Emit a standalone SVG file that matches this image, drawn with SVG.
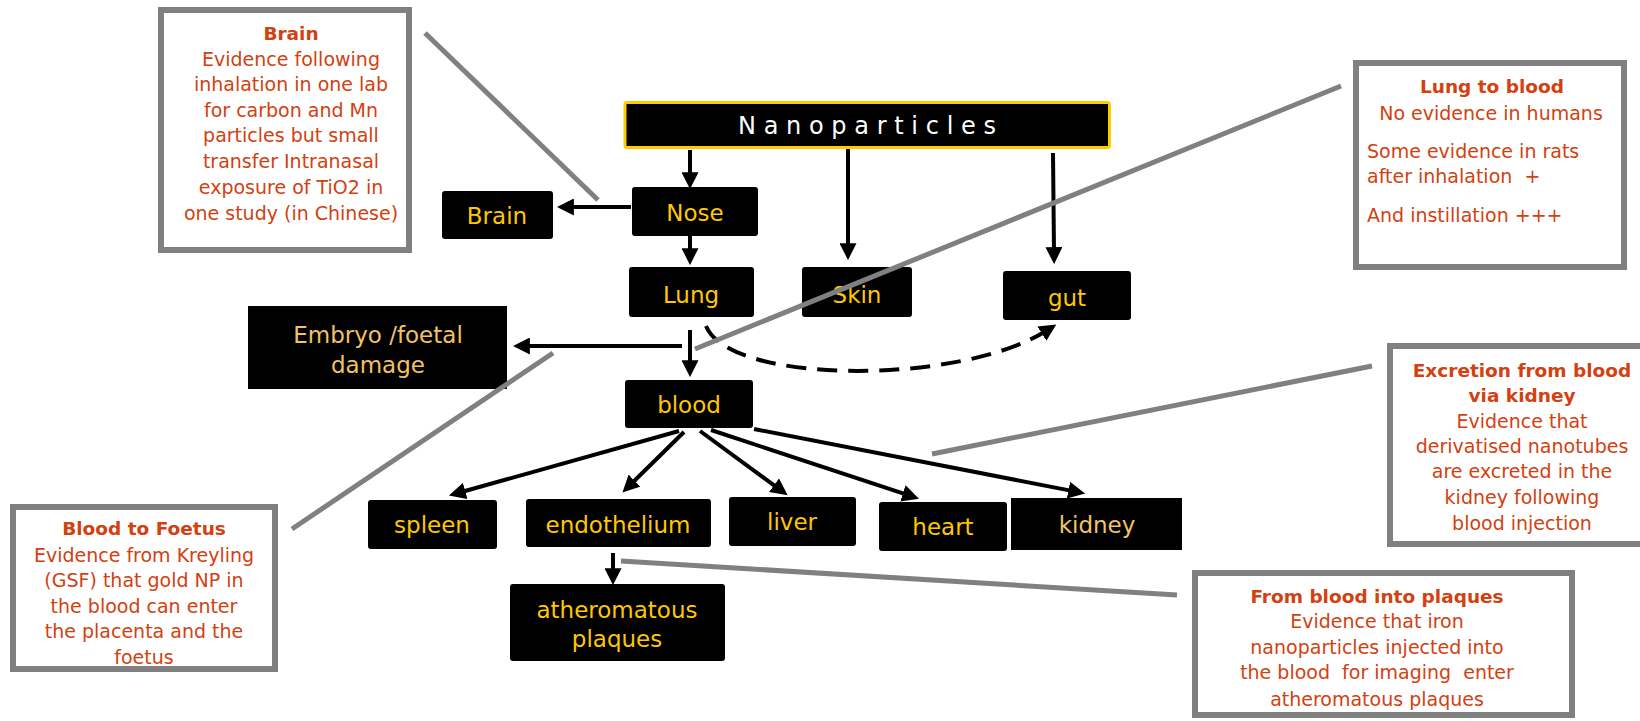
<svg xmlns="http://www.w3.org/2000/svg" width="1640" height="721" viewBox="0 0 1640 721">
<style>
.node{fill:#000}
.lbl{font-family:"DejaVu Sans",Verdana,sans-serif;font-size:23px;fill:#FFC800;text-anchor:middle}
.pale{fill:#F2C265}
.call{fill:#fff;stroke:#808080;stroke-width:6}
.ct{font-family:"DejaVu Sans",Verdana,sans-serif;font-size:19px;fill:#D2410F;text-anchor:middle;white-space:pre}
.ct .b{font-weight:bold;font-size:18.5px}
.ctl{text-anchor:start}
.arr{stroke:#000;stroke-width:4;fill:none;marker-end:url(#ah)}
.gl{stroke:#808080;stroke-width:5;fill:none}
</style>
<defs>
<marker id="ah" markerUnits="userSpaceOnUse" markerWidth="17" markerHeight="17" viewBox="0 0 14 14" refX="4" refY="7" orient="auto">
<path d="M0,0 L14,7 L0,14 z" fill="#000"/>
</marker>
</defs>
<rect width="1640" height="721" fill="#fff"/>

<g id="node-nanoparticles">
<rect x="625" y="102.5" width="484.5" height="45" fill="#000" stroke="#FFCC00" stroke-width="3" rx="2"/>
<text x="738" y="134" font-family="DejaVu Sans,Verdana,sans-serif" font-size="24" fill="#fff" letter-spacing="7.7">Nanoparticles</text>
</g>
<g id="node-nose"><rect class="node" x="632" y="187" width="126" height="49" rx="3"/><text class="lbl" x="695" y="221">Nose</text></g>
<g id="node-brain"><rect class="node" x="442" y="191" width="111" height="48" rx="3"/><text class="lbl" x="497" y="224">Brain</text></g>
<g id="node-lung"><rect class="node" x="629" y="267" width="125" height="50" rx="3"/><text class="lbl" x="691" y="303">Lung</text></g>
<g id="node-skin"><rect class="node" x="802" y="267" width="110" height="50" rx="3"/><text class="lbl" x="857" y="303">Skin</text></g>
<g id="node-gut"><rect class="node" x="1003" y="271" width="128" height="49" rx="3"/><text class="lbl" x="1067" y="306">gut</text></g>
<g id="node-embryo"><rect class="node" x="248" y="306" width="259" height="83"/><text class="lbl pale" x="378" y="343" font-size="25">Embryo /foetal</text><text class="lbl pale" x="378" y="373" font-size="25">damage</text></g>
<g id="node-blood"><rect class="node" x="625" y="380" width="128" height="48" rx="3"/><text class="lbl" x="689" y="413">blood</text></g>
<g id="node-spleen"><rect class="node" x="368" y="500" width="129" height="49" rx="3"/><text class="lbl" x="432" y="533">spleen</text></g>
<g id="node-endothelium"><rect class="node" x="526" y="499" width="185" height="48" rx="3"/><text class="lbl" x="618" y="533">endothelium</text></g>
<g id="node-liver"><rect class="node" x="729" y="497" width="127" height="49" rx="3"/><text class="lbl" x="792" y="530" font-size="24">liver</text></g>
<g id="node-heart"><rect class="node" x="879" y="502" width="128" height="49" rx="3"/><text class="lbl" x="943" y="535">heart</text></g>
<g id="node-kidney"><rect class="node" x="1011" y="498" width="171" height="52"/><text class="lbl pale" x="1097" y="533" font-size="26">kidney</text></g>
<g id="node-atheromatous"><rect class="node" x="510" y="584" width="215" height="77" rx="3"/><text class="lbl" x="617" y="618">atheromatous</text><text class="lbl" x="617" y="647">plaques</text></g>

<g id="connectors">
<line class="arr" x1="690" y1="150" x2="690" y2="177"/>
<line class="arr" x1="690" y1="236" x2="690" y2="253"/>
<line class="arr" x1="631" y1="207" x2="569" y2="207"/>
<line class="arr" x1="848" y1="149" x2="848" y2="248"/>
<line class="arr" x1="1053" y1="153" x2="1054" y2="252"/>
<line class="arr" x1="682" y1="346" x2="525" y2="346"/>
<line class="arr" x1="690" y1="330" x2="690" y2="365"/>
<path class="arr" d="M706,326 C730,385 960,385 1046,331" stroke-width="5.5" stroke-dasharray="20,11"/>
<line class="arr" x1="679" y1="431" x2="460.6" y2="492.3" stroke-width="5"/>
<line class="arr" x1="684" y1="432" x2="631.1" y2="484"/>
<line class="arr" x1="700" y1="431" x2="777.9" y2="488.1"/>
<line class="arr" x1="711" y1="430" x2="907.5" y2="494.9" stroke-width="5"/>
<line class="arr" x1="754" y1="429" x2="1073.2" y2="491.1" stroke-width="3.5"/>
<line class="arr" x1="613" y1="553" x2="613" y2="573" stroke-width="3"/>
</g>

<g id="callout-lines">
<line class="gl" x1="425" y1="33" x2="598" y2="200"/>
<line class="gl" x1="1341" y1="86" x2="695" y2="349"/>
<line class="gl" x1="553" y1="353" x2="292" y2="529"/>
<line class="gl" x1="1372" y1="366" x2="932" y2="454"/>
<line class="gl" x1="621" y1="561" x2="1177" y2="595"/>
</g>

<g id="callout-brain">
<rect class="call" x="161" y="10" width="248" height="240"/>
<text class="ct" x="291"><tspan class="b" x="291" y="40">Brain</tspan><tspan x="291" y="65.5">Evidence following</tspan><tspan x="291" y="91">inhalation in one lab</tspan><tspan x="291" y="117">for carbon and Mn</tspan><tspan x="291" y="142">particles but small</tspan><tspan x="291" y="168">transfer Intranasal</tspan><tspan x="291" y="194">exposure of TiO2 in</tspan><tspan x="291" y="220">one study (in Chinese)</tspan></text>
</g>
<g id="callout-lung-blood">
<rect class="call" x="1356" y="63" width="268" height="204"/>
<text class="ct"><tspan class="b" x="1492" y="93">Lung to blood</tspan><tspan x="1491" y="120">No evidence in humans</tspan></text>
<text class="ct ctl"><tspan x="1367" y="158">Some evidence in rats</tspan><tspan x="1367" y="183">after inhalation  +</tspan><tspan x="1367" y="222">And instillation +++</tspan></text>
</g>
<g id="callout-excretion">
<rect class="call" x="1390" y="346" width="260" height="198"/>
<text class="ct"><tspan class="b" x="1522" y="377">Excretion from blood</tspan><tspan class="b" x="1522" y="402">via kidney</tspan><tspan x="1522" y="428">Evidence that</tspan><tspan x="1522" y="453">derivatised nanotubes</tspan><tspan x="1522" y="478">are excreted in the</tspan><tspan x="1522" y="504">kidney following</tspan><tspan x="1522" y="530">blood injection</tspan></text>
</g>
<g id="callout-foetus">
<rect class="call" x="13" y="507" width="262" height="162"/>
<text class="ct"><tspan class="b" x="144" y="535">Blood to Foetus</tspan><tspan x="144" y="562">Evidence from Kreyling</tspan><tspan x="144" y="587">(GSF) that gold NP in</tspan><tspan x="144" y="613">the blood can enter</tspan><tspan x="144" y="638">the placenta and the</tspan><tspan x="144" y="664">foetus</tspan></text>
</g>
<g id="callout-plaques">
<rect class="call" x="1195" y="573" width="377" height="142"/>
<text class="ct"><tspan class="b" x="1377" y="603">From blood into plaques</tspan><tspan x="1377" y="628">Evidence that iron</tspan><tspan x="1377" y="654">nanoparticles injected into</tspan><tspan x="1377" y="679">the blood  for imaging  enter</tspan><tspan x="1377" y="706">atheromatous plaques</tspan></text>
</g>
</svg>
